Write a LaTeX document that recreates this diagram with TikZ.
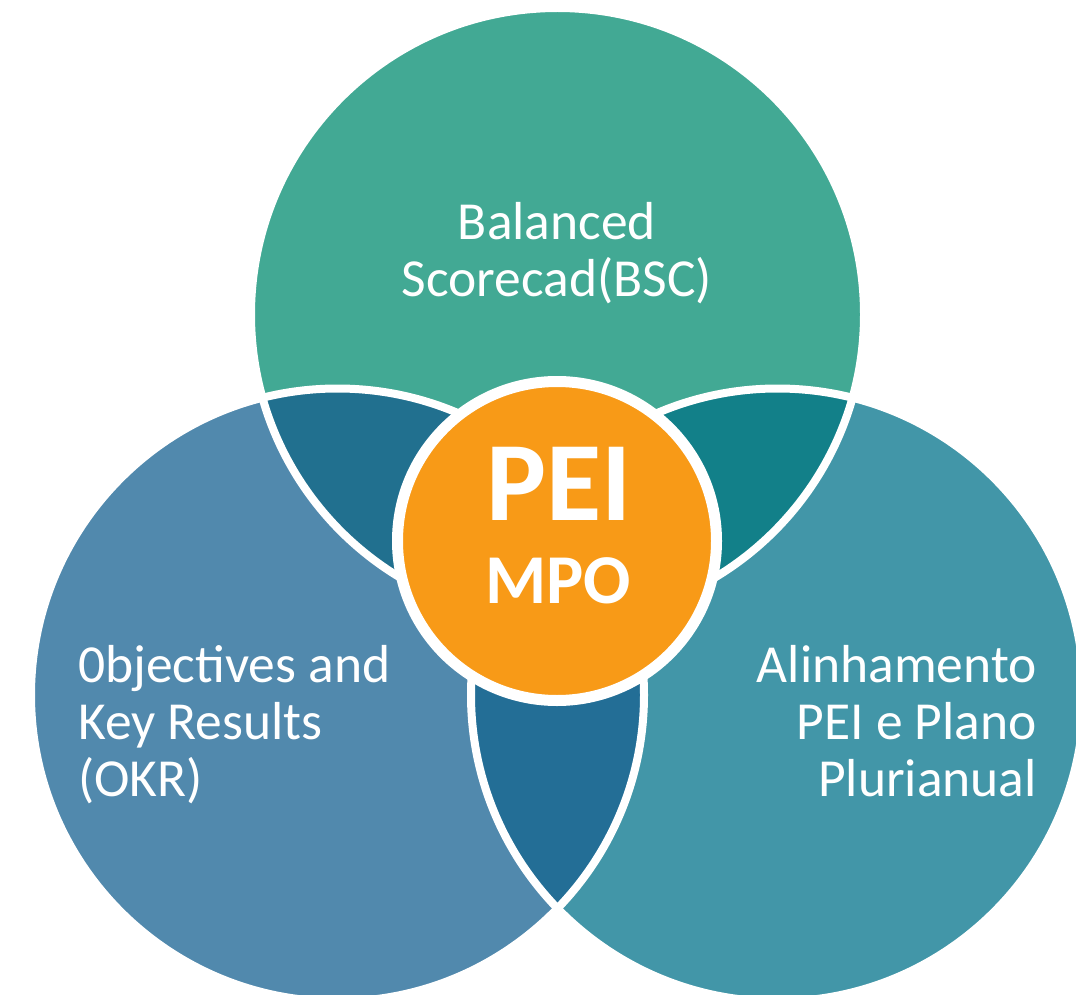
\documentclass[tikz,border=0pt]{standalone}
\usepackage{fontspec}
\setmainfont{Carlito}
\definecolor{topc}{HTML}{42A994}
\definecolor{leftc}{HTML}{5189AD}
\definecolor{rightc}{HTML}{4296A8}
\definecolor{tlc}{HTML}{21708F}
\definecolor{trc}{HTML}{128089}
\definecolor{bc}{HTML}{236E96}
\definecolor{orangec}{HTML}{F89A17}
\begin{document}
\begin{tikzpicture}[x=1pt,y=-1pt]
\tikzset{
  ring/.style={draw=white, line width=8pt},
  lbl/.style={text=white, inner sep=0pt, font=\fontsize{53.5}{57}\selectfont},
}
\useasboundingbox (0,0) rectangle (1076,995);
\clip (0,0) rectangle (1076,995);
\coordinate (T) at (557.5,314.5);
\coordinate (L) at (337.5,695);
\coordinate (R) at (777.5,695);
\coordinate (C) at (557,541);
\def\rr{306.5pt}
\fill[topc] (T) circle[radius=\rr];
\fill[leftc] (L) circle[radius=\rr];
\fill[rightc] (R) circle[radius=\rr];
\begin{scope}
  \clip (T) circle[radius=\rr];
  \fill[tlc] (L) circle[radius=\rr];
\end{scope}
\begin{scope}
  \clip (T) circle[radius=\rr];
  \fill[trc] (R) circle[radius=\rr];
\end{scope}
\begin{scope}
  \clip (L) circle[radius=\rr];
  \fill[bc] (R) circle[radius=\rr];
\end{scope}
\draw[ring] (T) circle[radius=\rr];
\draw[ring] (L) circle[radius=\rr];
\draw[ring] (R) circle[radius=\rr];
\draw[draw=white, line width=11pt, fill=orangec] (C) circle[radius=159.5pt];
\node[lbl, align=center] (bsc) at (557,253) {Balanced\\Scorecad(BSC)};
\node[lbl, align=left, anchor=west] (okr) at (78,725) {0bjectives and\\Key Results\\(OKR)};
\node[lbl, align=right, anchor=east] (ppa) at (1037,721) {Alinhamento\\PEI e Plano\\Plurianual};
\node[text=white, inner sep=0pt, anchor=base, font=\bfseries\fontsize{113}{113}\selectfont] (pei) at (559,520) {PEI};
\node[text=white, inner sep=0pt, anchor=base, font=\bfseries\fontsize{70}{70}\selectfont] (mpo) at (558,603) {MPO};
\end{tikzpicture}
\end{document}
